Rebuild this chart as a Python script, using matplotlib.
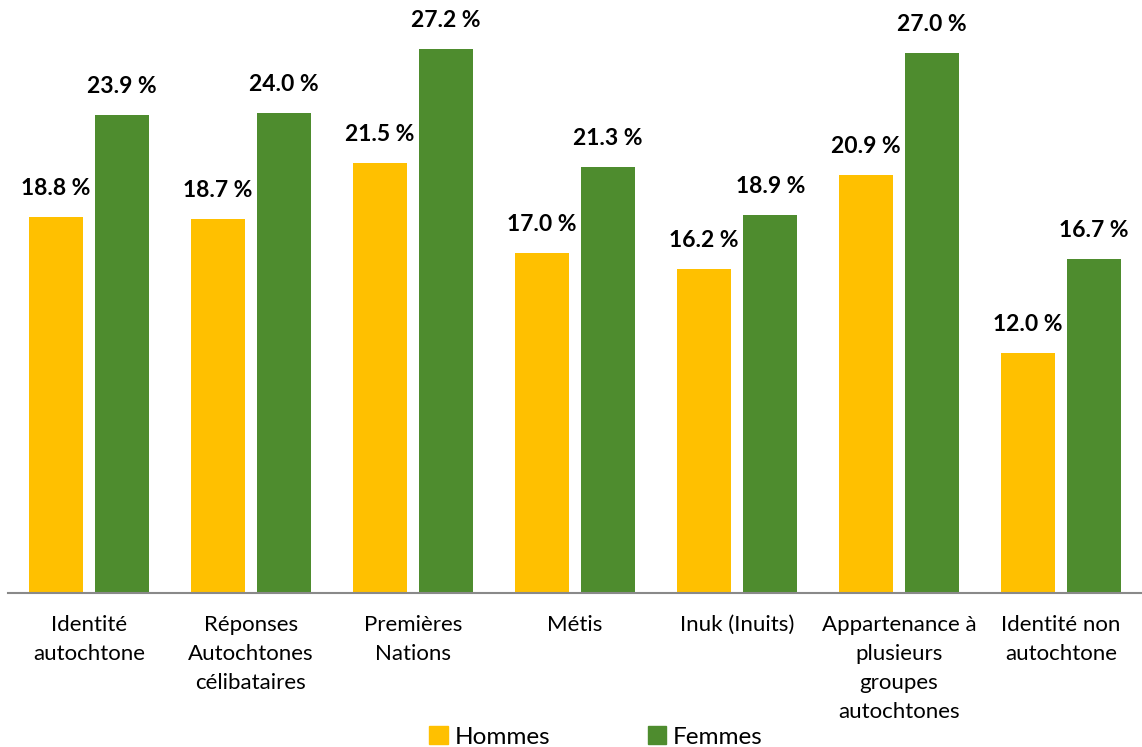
import numpy as np
import matplotlib.pyplot as plt
from matplotlib.patches import Patch

plt.rcParams['font.family'] = ['Lato', 'DejaVu Sans']

categories = ["Identité\nautochtone", "Réponses\nAutochtones\ncélibataires",
              "Premières\nNations", "Métis", "Inuk (Inuits)",
              "Appartenance à\nplusieurs\ngroupes\nautochtones",
              "Identité non\nautochtone"]
hommes = [18.8, 18.7, 21.5, 17.0, 16.2, 20.9, 12.0]
femmes = [23.9, 24.0, 27.2, 21.3, 18.9, 27.0, 16.7]

col_h = "#FFC000"
col_f = "#4E8C2E"

fig = plt.figure(figsize=(11.42, 7.47), dpi=100)
ax = fig.add_axes([8 / 1142, 154 / 747, 1134 / 1142, 593 / 747])

x = np.arange(len(categories))
w = 0.333
off = 0.205
bh = ax.bar(x - off, hommes, w, color=col_h)
bf = ax.bar(x + off, femmes, w, color=col_f)

for rects, vals in ((bh, hommes), (bf, femmes)):
    for r, v in zip(rects, vals):
        ax.text(r.get_x() + r.get_width() / 2, v + 0.9, f"{v:.1f} %",
                ha='center', va='bottom', fontsize=16.5, fontweight='bold')

ax.set_xlim(-0.5, len(categories) - 0.5)
ax.set_ylim(0, 29.65)
ax.set_yticks([])
ax.set_xticks(x)
ax.set_xticklabels(categories, fontsize=16, linespacing=1.55, va='top')
ax.tick_params(axis='x', length=0, pad=16)
for s in ['top', 'right', 'left']:
    ax.spines[s].set_visible(False)
ax.spines['bottom'].set_color('#898989')
ax.spines['bottom'].set_linewidth(1.5)

handles = [Patch(color=col_h, label="Hommes"), Patch(color=col_f, label="Femmes")]
fig.legend(handles=handles, loc='lower center', bbox_to_anchor=(0.522, -0.03),
           ncol=2, frameon=False, fontsize=17.5, handlelength=0.75, handleheight=0.75,
           handletextpad=0.3, columnspacing=4.0)

fig.savefig("out.png", dpi=100)
